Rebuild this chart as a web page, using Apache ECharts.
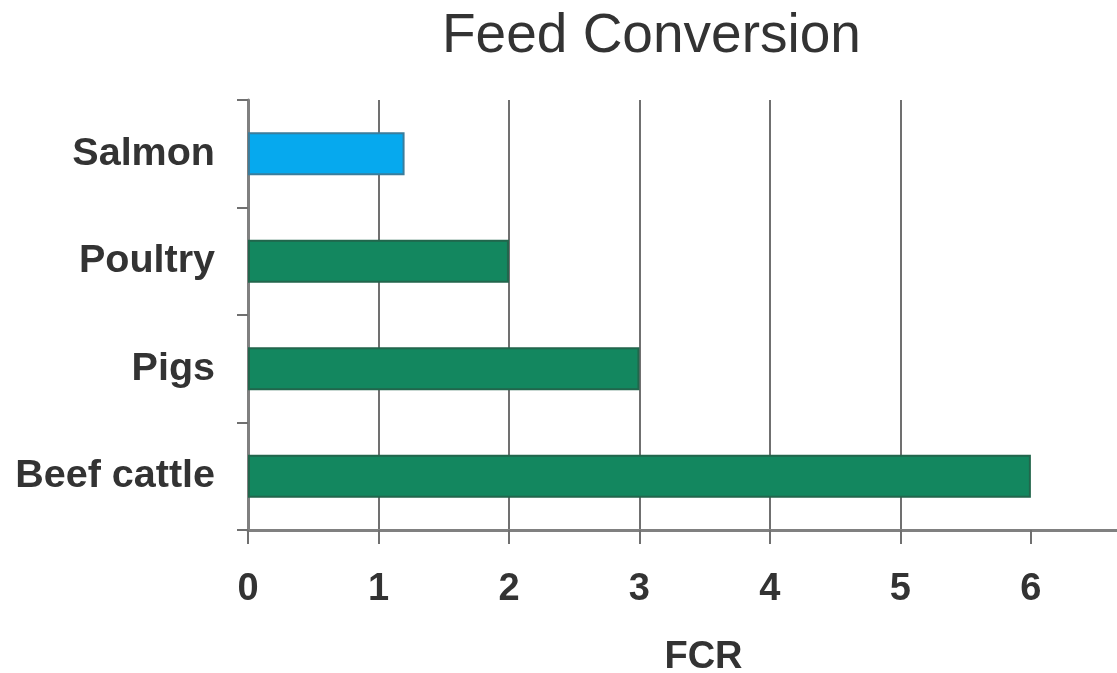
<!DOCTYPE html>
<html>
<head>
<meta charset="utf-8">
<script src="https://cdn.jsdelivr.net/npm/echarts@6/dist/echarts.min.js"></script>
<style>
html,body{margin:0;padding:0;background:#fff;}
#chart{width:1117px;height:673px;}
</style>
</head>
<body>
<div id="chart"></div>
<script>
const categories = ['Beef cattle', 'Pigs', 'Poultry', 'Salmon'];
const fcrValues = [6, 3, 2, 1.2];
const tickValues = [0, 1, 2, 3, 4, 5, 6];
const barFills = ['#13875f', '#13875f', '#13875f', '#06a9ee'];
const barBorders = ['#22664c', '#22664c', '#22664c', '#3b7d9c'];
const titleText = 'Feed Conversion';
const xAxisName = 'FCR';

const FONT = '"Liberation Sans", Arial, sans-serif';
const chart = echarts.init(document.getElementById('chart'), null, {renderer: 'canvas'});
chart.setOption({
  animation: false,
  backgroundColor: '#ffffff',
  title: {
    text: titleText,
    left: 437,
    top: 4,
    textStyle: {fontFamily: FONT, fontSize: 55, fontWeight: 'normal', color: '#333333'}
  },
  grid: {left: 248, right: 0, top: 100, bottom: 143, containLabel: false, outerBoundsMode: 'none'},
  xAxis: {
    type: 'value',
    min: 0,
    max: 6.66,
    interval: 1,
    name: xAxisName,
    nameLocation: 'middle',
    nameGap: 109,
    nameTextStyle: {fontFamily: FONT, fontSize: 38, fontWeight: 'bold', color: '#333333', padding: [0, 0, 0, 42]},
    axisLine: {show: true, lineStyle: {color: '#808080', width: 3}},
    axisTick: {show: true, length: 14, customValues: tickValues, lineStyle: {color: '#707070', width: 2}},
    axisLabel: {
      margin: 41,
      customValues: tickValues,
      fontFamily: FONT, fontSize: 38, fontWeight: 'bold', color: '#333333'
    },
    splitLine: {show: true, showMaxLine: false, lineStyle: {color: '#707070', width: 2}}
  },
  yAxis: {
    type: 'category',
    data: categories,
    axisLine: {show: true, lineStyle: {color: '#808080', width: 3}},
    axisTick: {show: true, length: 11, lineStyle: {color: '#707070', width: 2}},
    axisLabel: {margin: 33, fontFamily: FONT, fontSize: 39.5, fontWeight: 'bold', color: '#333333'},
    splitLine: {show: false}
  },
  series: [{
    type: 'bar',
    data: fcrValues.map((v, i) => ({
      value: v,
      itemStyle: {color: barFills[i], borderColor: barBorders[i], borderWidth: 2}
    })),
    barWidth: '40%'
  }]
});
</script>
</body>
</html>
